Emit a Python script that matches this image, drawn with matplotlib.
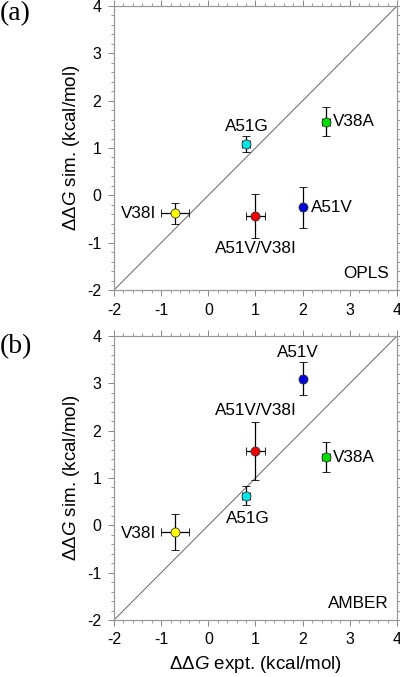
import numpy as np
import matplotlib
matplotlib.use("Agg")
import matplotlib.pyplot as plt
from matplotlib.ticker import MultipleLocator

plt.rcParams["font.family"] = ["Liberation Sans", "DejaVu Sans"]
plt.rcParams["mathtext.fontset"] = "custom"
plt.rcParams["mathtext.it"] = "Liberation Sans:italic"
plt.rcParams["mathtext.rm"] = "Liberation Sans"
plt.rcParams["axes.unicode_minus"] = False

# ------------------------------------------------------------
# data
# ------------------------------------------------------------
mutants = ["V38I", "A51G", "A51V/V38I", "A51V", "V38A"]
colors = ["#ffff00", "#00e5e5", "#ee0000", "#0000dd", "#00dd00"]

expt = [-0.7, 0.8, 1.0, 2.0, 2.5]
expt_err = [0.3, 0.08, 0.2, 0.05, 0.08]

opls = [-0.38, 1.08, -0.44, -0.25, 1.56]
opls_err = [0.22, 0.17, 0.47, 0.43, 0.31]

amber = [-0.15, 0.63, 1.57, 3.1, 1.44]
amber_err = [0.38, 0.2, 0.61, 0.35, 0.31]

# label placement: (x, y, ha, va)
opls_labels = [(-1.1, -0.38, "right", "center"),
               (0.81, 1.3, "center", "bottom"),
               (1.0, -0.97, "center", "top"),
               (2.17, -0.25, "left", "center"),
               (2.65, 1.56, "left", "center")]
amber_labels = [(-1.1, -0.17, "right", "center"),
                (0.83, 0.3, "center", "top"),
                (1.0, 2.26, "center", "bottom"),
                (1.9, 3.5, "center", "bottom"),
                (2.65, 1.44, "left", "center")]


def draw_panel(ax, sim, sim_err, labels, ff_name, show_xlabel):
    ax.plot([-2, 4], [-2, 4], color="#666666", lw=0.7, zorder=1)
    for i in range(len(mutants)):
        ax.errorbar(expt[i], sim[i], xerr=expt_err[i], yerr=sim_err[i],
                    fmt="o", color="black", mfc=colors[i], mec="#333333",
                    mew=0.6, ms=6.5, elinewidth=0.9, capsize=3,
                    capthick=0.9, zorder=3)
        lx, ly, ha, va = labels[i]
        ax.text(lx, ly, mutants[i], ha=ha, va=va, fontsize=12.3)
    ax.text(3.82, -1.8, ff_name, ha="right", va="bottom", fontsize=12.3)

    ax.set_xlim(-2, 4)
    ax.set_ylim(-2, 4)
    ax.xaxis.set_major_locator(MultipleLocator(1))
    ax.yaxis.set_major_locator(MultipleLocator(1))
    ax.xaxis.set_minor_locator(MultipleLocator(0.2))
    ax.yaxis.set_minor_locator(MultipleLocator(0.2))
    ax.tick_params(which="both", direction="out", top=True, right=True,
                   color="#888888", labelsize=11.5, pad=5)
    ax.tick_params(which="major", length=4, width=0.7)
    ax.tick_params(which="minor", length=2, width=0.6)
    for s in ax.spines.values():
        s.set_color("#999999")
        s.set_linewidth(0.9)
    ax.set_ylabel(r"ΔΔ$G$ sim. (kcal/mol)", fontsize=13.5, labelpad=4)
    if show_xlabel:
        ax.set_xlabel(r"ΔΔ$G$ expt. (kcal/mol)", fontsize=13.5, labelpad=5)


fig = plt.figure(figsize=(4.0, 6.77), dpi=100)
ax1 = fig.add_axes([0.285, 0.5716, 0.7075, 0.4195])
ax2 = fig.add_axes([0.285, 0.0842, 0.7075, 0.4195])

draw_panel(ax1, opls, opls_err, opls_labels, "OPLS", False)
draw_panel(ax2, amber, amber_err, amber_labels, "AMBER", True)

fig.text(0.0, 0.98, "(a)", fontsize=20, family="Liberation Serif",
         ha="left", va="center")
fig.text(0.0, 0.488, "(b)", fontsize=20, family="Liberation Serif",
         ha="left", va="center")

fig.savefig("out.png", dpi=100)
